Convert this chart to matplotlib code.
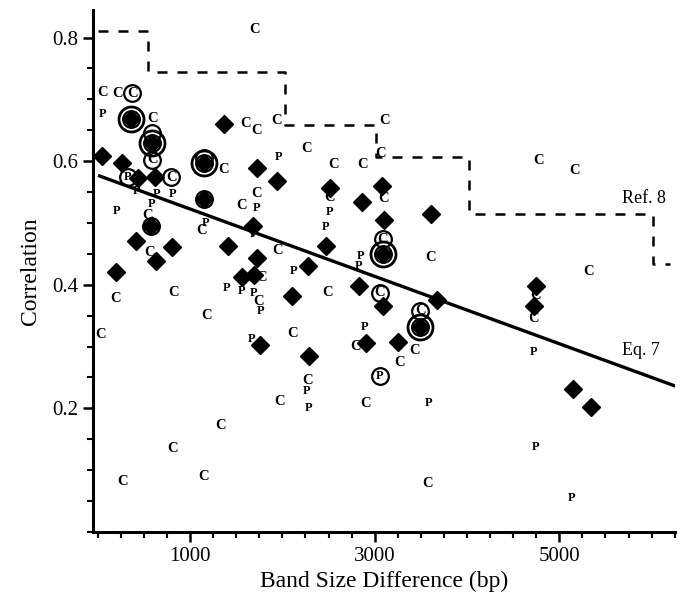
import matplotlib.pyplot as plt
from matplotlib.ticker import MultipleLocator

plt.rcParams['font.family'] = ['Liberation Serif', 'DejaVu Serif']

# filled diamonds
dia_x = [43, 258, 441, 624, 355, 591, 1365, 1150, 1720, 1946, 1150, 419, 581, 806, 634,
         194, 1408, 1677, 1720, 1559, 1688, 2107, 2279, 2473, 1752, 2290, 2515, 2860, 3075,
         3096, 3085, 3612, 2827, 3085, 3677, 3494, 3247, 2903, 4752, 4730, 5150, 5343]
dia_y = [0.608, 0.597, 0.573, 0.574, 0.669, 0.629, 0.660, 0.597, 0.589, 0.568, 0.539, 0.471,
         0.495, 0.461, 0.439, 0.421, 0.463, 0.495, 0.444, 0.413, 0.415, 0.382, 0.431, 0.463,
         0.302, 0.285, 0.556, 0.534, 0.560, 0.505, 0.450, 0.514, 0.398, 0.365, 0.376, 0.331,
         0.307, 0.305, 0.398, 0.366, 0.231, 0.202]

# "C" points
c_x = [54, 215, 591, 1602, 1720, 1935, 2258, 1365, 1720, 1559, 540, 1129, 1946, 1774, 1745,
       194, 817, 1183, 32, 2107, 2494, 1333, 806, 1150, 269, 1699, 3107, 3064, 2558, 2870,
       3096, 2515, 3601, 2795, 3268, 3430, 2268, 1967, 2903, 3569, 5321, 4720, 4773, 5160,
       4741, 559, 376, 591, 795, 3053, 3085, 3494]
c_y = [0.711, 0.710, 0.669, 0.661, 0.650, 0.665, 0.621, 0.587, 0.547, 0.529, 0.512, 0.487,
       0.456, 0.411, 0.373, 0.377, 0.387, 0.350, 0.319, 0.321, 0.387, 0.173, 0.135, 0.089,
       0.081, 0.813, 0.666, 0.613, 0.595, 0.595, 0.540, 0.541, 0.444, 0.300, 0.274, 0.294,
       0.245, 0.211, 0.208, 0.079, 0.421, 0.345, 0.601, 0.585, 0.382, 0.452, 0.710, 0.602,
       0.574, 0.387, 0.474, 0.358]

# "P" points
p_x = [54, 1957, 1720, 419, 634, 806, 204, 585, 1172, 1688, 2118, 1398, 1559, 1688, 1760,
       1666, 2515, 2473, 2849, 2827, 2892, 2258, 2279, 3580, 4720, 4741, 5128, 322, 3053]
p_y = [0.677, 0.606, 0.524, 0.552, 0.547, 0.547, 0.520, 0.531, 0.500, 0.482, 0.423, 0.394,
       0.390, 0.387, 0.358, 0.313, 0.518, 0.494, 0.447, 0.430, 0.331, 0.228, 0.200, 0.208,
       0.292, 0.137, 0.055, 0.574, 0.253]

# circled points
ring_x = [376, 591, 795, 3053, 3085, 3494, 322, 3053, 581, 1150, 1150, 591,
          355, 591, 1150, 3085, 3494]
ring_y = [0.710, 0.602, 0.574, 0.387, 0.474, 0.358, 0.574, 0.253, 0.495, 0.539, 0.605, 0.645,
          0.669, 0.629, 0.597, 0.450, 0.331]
big_ring_x = [355, 591, 1150, 3085, 3494]
big_ring_y = [0.669, 0.629, 0.597, 0.450, 0.331]

# Ref. 8 step curve and Eq. 7 line
ref8_x = [0, 540, 540, 2030, 2030, 3010, 3010, 4020, 4020, 6020, 6020, 6200]
ref8_y = [0.81, 0.81, 0.745, 0.745, 0.658, 0.658, 0.606, 0.606, 0.514, 0.514, 0.434, 0.434]
eq7_x = [20, 6240]
eq7_y = [0.576, 0.237]

fig = plt.figure(figsize=(6.85, 6.08), dpi=100)
ax = fig.add_axes([0.136, 0.125, 0.849, 0.859])

ax.plot(ref8_x, ref8_y, color='black', ls=(0, (4, 4)), lw=1.8)
ax.plot(eq7_x, eq7_y, color='black', lw=2.4)

ax.plot(dia_x, dia_y, 'D', color='black', ms=9, ls='none', zorder=3)
ax.plot(ring_x, ring_y, 'o', mfc='none', mec='black', mew=1.6, ms=12, ls='none', zorder=4)
ax.plot(big_ring_x, big_ring_y, 'o', mfc='none', mec='black', mew=2.0, ms=18, ls='none', zorder=4)

for x, y in zip(c_x, c_y):
    ax.text(x, y, 'C', ha='center', va='center', fontsize=10.5, fontweight='bold', zorder=5)
for x, y in zip(p_x, p_y):
    ax.text(x, y, 'P', ha='center', va='center', fontsize=9, fontweight='bold', zorder=5)

ax.text(5680, 0.532, 'Ref. 8', fontsize=13)
ax.text(5680, 0.287, 'Eq. 7', fontsize=13)

ax.set_xlim(-50, 6250)
ax.set_ylim(0, 0.845)
ax.set_xticks([1000, 3000, 5000])
ax.set_yticks([0.2, 0.4, 0.6, 0.8])
ax.xaxis.set_minor_locator(MultipleLocator(250))
ax.yaxis.set_minor_locator(MultipleLocator(0.05))
ax.tick_params(which='major', length=7, width=1.8, labelsize=15)
ax.tick_params(which='minor', length=4, width=1.5)
for s in ['top', 'right']:
    ax.spines[s].set_visible(False)
for s in ['left', 'bottom']:
    ax.spines[s].set_linewidth(2.2)

ax.set_xlabel('Band Size Difference (bp)', fontsize=17, labelpad=4)
ax.set_ylabel('Correlation', fontsize=17, labelpad=8)

fig.savefig('out.png', dpi=100)
